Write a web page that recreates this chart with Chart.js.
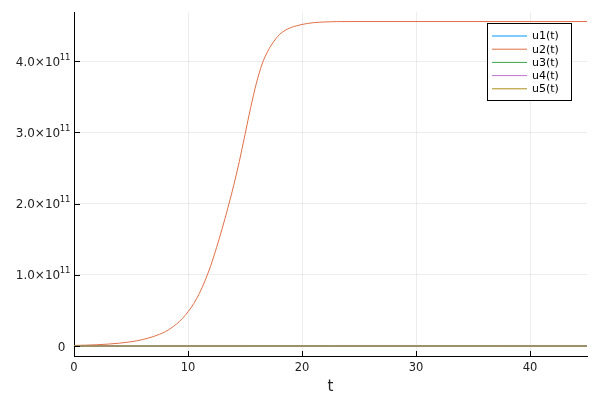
<!DOCTYPE html>
<html>
<head>
<meta charset="utf-8">
<script src="https://cdn.jsdelivr.net/npm/chart.js@4/dist/chart.umd.min.js"></script>
<style>
  html, body { margin: 0; padding: 0; background: #fff; }
  #wrap { width: 600px; height: 400px; }
</style>
</head>
<body>
<div id="wrap"><canvas id="odeChart" width="600" height="400"></canvas></div>
<script>
// time points for u2
const tValues = [0, 1, 2, 3, 4, 5, 6, 7, 7.5, 8, 8.5, 9, 9.5, 10, 10.5, 11, 11.5, 12, 12.5, 13, 13.5, 14,
  14.5, 15, 15.5, 16, 16.5, 17, 17.5, 18, 18.5, 19, 19.5, 20, 21, 22, 23, 25, 30, 35, 40, 45];
// u2 values, in units of 1e11
const u2Values = [0.008, 0.012, 0.018, 0.027, 0.04, 0.06, 0.09, 0.135, 0.165, 0.20, 0.25, 0.31, 0.385,
  0.48, 0.595, 0.74, 0.92, 1.13, 1.38, 1.65, 1.94, 2.25, 2.59, 2.97, 3.35, 3.69, 3.96, 4.14, 4.27,
  4.37, 4.43, 4.47, 4.495, 4.515, 4.54, 4.55, 4.555, 4.556, 4.556, 4.556, 4.556, 4.556];
// the other four stay at ~0 the whole time
const tFlat = [0, 45];
const u1Values = [0, 0];
const u3Values = [0, 0];
const u4Values = [0, 0];
const u5Values = [0, 0];

const seriesNames = ['u1(t)', 'u2(t)', 'u3(t)', 'u4(t)', 'u5(t)'];
const seriesColors = ['#009af9', '#e26f46', '#3da44d', '#c271d2', '#ac8e18'];

const xTicks = [0, 10, 20, 30, 40];
const yTicks = [0, 1e11, 2e11, 3e11, 4e11];
const yTickMantissa = ['0', '1.0×10', '2.0×10', '3.0×10', '4.0×10'];
const yTickExponent = ['', '11', '11', '11', '11'];

const SCALE = 1e11;
function toPoints(ts, vs, mult) {
  return ts.map((t, i) => ({ x: t, y: vs[i] * mult }));
}

const allSeries = [
  toPoints(tFlat, u1Values, 1),
  toPoints(tValues, u2Values, SCALE),
  toPoints(tFlat, u3Values, 1),
  toPoints(tFlat, u4Values, 1),
  toPoints(tFlat, u5Values, 1),
];

const FONT = 'DejaVu Sans';

// small inward tick marks like the original
const innerTicks = {
  id: 'innerTicks',
  afterDatasetsDraw(chart) {
    const ctx = chart.ctx;
    const area = chart.chartArea;
    const xs = chart.scales.x, ys = chart.scales.y;
    ctx.save();
    ctx.strokeStyle = '#000';
    ctx.lineWidth = 1;
    ctx.beginPath();
    xTicks.forEach(v => {
      const px = Math.round(xs.getPixelForValue(v)) + 0.5;
      ctx.moveTo(px, area.bottom);
      ctx.lineTo(px, area.bottom - 5);
    });
    yTicks.forEach(v => {
      const py = Math.round(ys.getPixelForValue(v)) + 0.5;
      ctx.moveTo(area.left, py);
      ctx.lineTo(area.left + 6, py);
    });
    ctx.stroke();
    ctx.restore();
  }
};

// y labels with a raised exponent
const sciLabels = {
  id: 'sciLabels',
  afterDraw(chart) {
    const ctx = chart.ctx;
    const ys = chart.scales.y;
    const right = chart.chartArea.left - 3.5;
    ctx.save();
    ctx.fillStyle = '#222';
    ctx.textAlign = 'right';
    ctx.textBaseline = 'alphabetic';
    yTicks.forEach((v, i) => {
      const py = ys.getPixelForValue(v);
      let x = right;
      if (yTickExponent[i]) {
        ctx.font = '8.5px ' + FONT;
        ctx.fillText(yTickExponent[i], x, py - 1.5);
        x -= ctx.measureText(yTickExponent[i]).width - 0.5;
      } else {
        x -= 5;
      }
      ctx.font = '12px ' + FONT;
      ctx.fillText(yTickMantissa[i], x, py + 4.5);
    });
    ctx.restore();
  }
};

// legend box inside the plot, top right
const boxLegend = {
  id: 'boxLegend',
  afterDraw(chart) {
    const ctx = chart.ctx;
    const x0 = 487.5, y0 = 23.5, w = 84, h = 77;
    ctx.save();
    ctx.fillStyle = '#fff';
    ctx.fillRect(x0, y0, w, h);
    ctx.strokeStyle = '#000';
    ctx.lineWidth = 1;
    ctx.strokeRect(x0, y0, w, h);
    ctx.font = '11px ' + FONT;
    ctx.textBaseline = 'middle';
    ctx.textAlign = 'left';
    seriesNames.forEach((name, i) => {
      const y = 36 + i * 13.2;
      ctx.strokeStyle = seriesColors[i];
      ctx.beginPath();
      ctx.moveTo(492, y);
      ctx.lineTo(527, y);
      ctx.stroke();
      ctx.fillStyle = '#000';
      ctx.fillText(name, 532, y + 0.5);
    });
    ctx.restore();
  }
};

const ctx = document.getElementById('odeChart').getContext('2d');
const odeChart = new Chart(ctx, {
  type: 'line',
  data: {
    datasets: allSeries.map((pts, i) => ({
      label: seriesNames[i],
      data: pts,
      borderColor: seriesColors[i],
      borderWidth: 1,
      pointRadius: 0,
      cubicInterpolationMode: 'monotone',
      fill: false,
      order: seriesNames.length - i, // u5 ends up on top
    })),
  },
  options: {
    responsive: false,
    animation: false,
    layout: { padding: { top: 12, right: 13, left: 0, bottom: 0 } },
    plugins: {
      legend: { display: false },
      tooltip: { enabled: false },
    },
    scales: {
      x: {
        type: 'linear',
        min: 0,
        max: 45,
        afterBuildTicks: s => { s.ticks = xTicks.map(v => ({ value: v })); },
        afterFit: s => { s.height = 44; },
        grid: { color: 'rgba(0,0,0,0.07)', drawTicks: false },
        border: { color: '#000', width: 1 },
        ticks: { color: '#222', font: { family: FONT, size: 11.5 }, padding: 5, maxRotation: 0 },
        title: { display: true, text: 't', color: '#222', font: { family: FONT, size: 15 }, padding: { top: 0 } },
      },
      y: {
        type: 'linear',
        min: -0.14e11,
        max: 4.69e11,
        afterBuildTicks: s => { s.ticks = yTicks.map(v => ({ value: v })); },
        afterFit: s => { s.width = 74; },
        grid: { color: 'rgba(0,0,0,0.07)', drawTicks: false },
        border: { color: '#000', width: 1 },
        ticks: { display: false },
      },
    },
  },
  plugins: [innerTicks, sciLabels, boxLegend],
});
</script>
</body>
</html>
